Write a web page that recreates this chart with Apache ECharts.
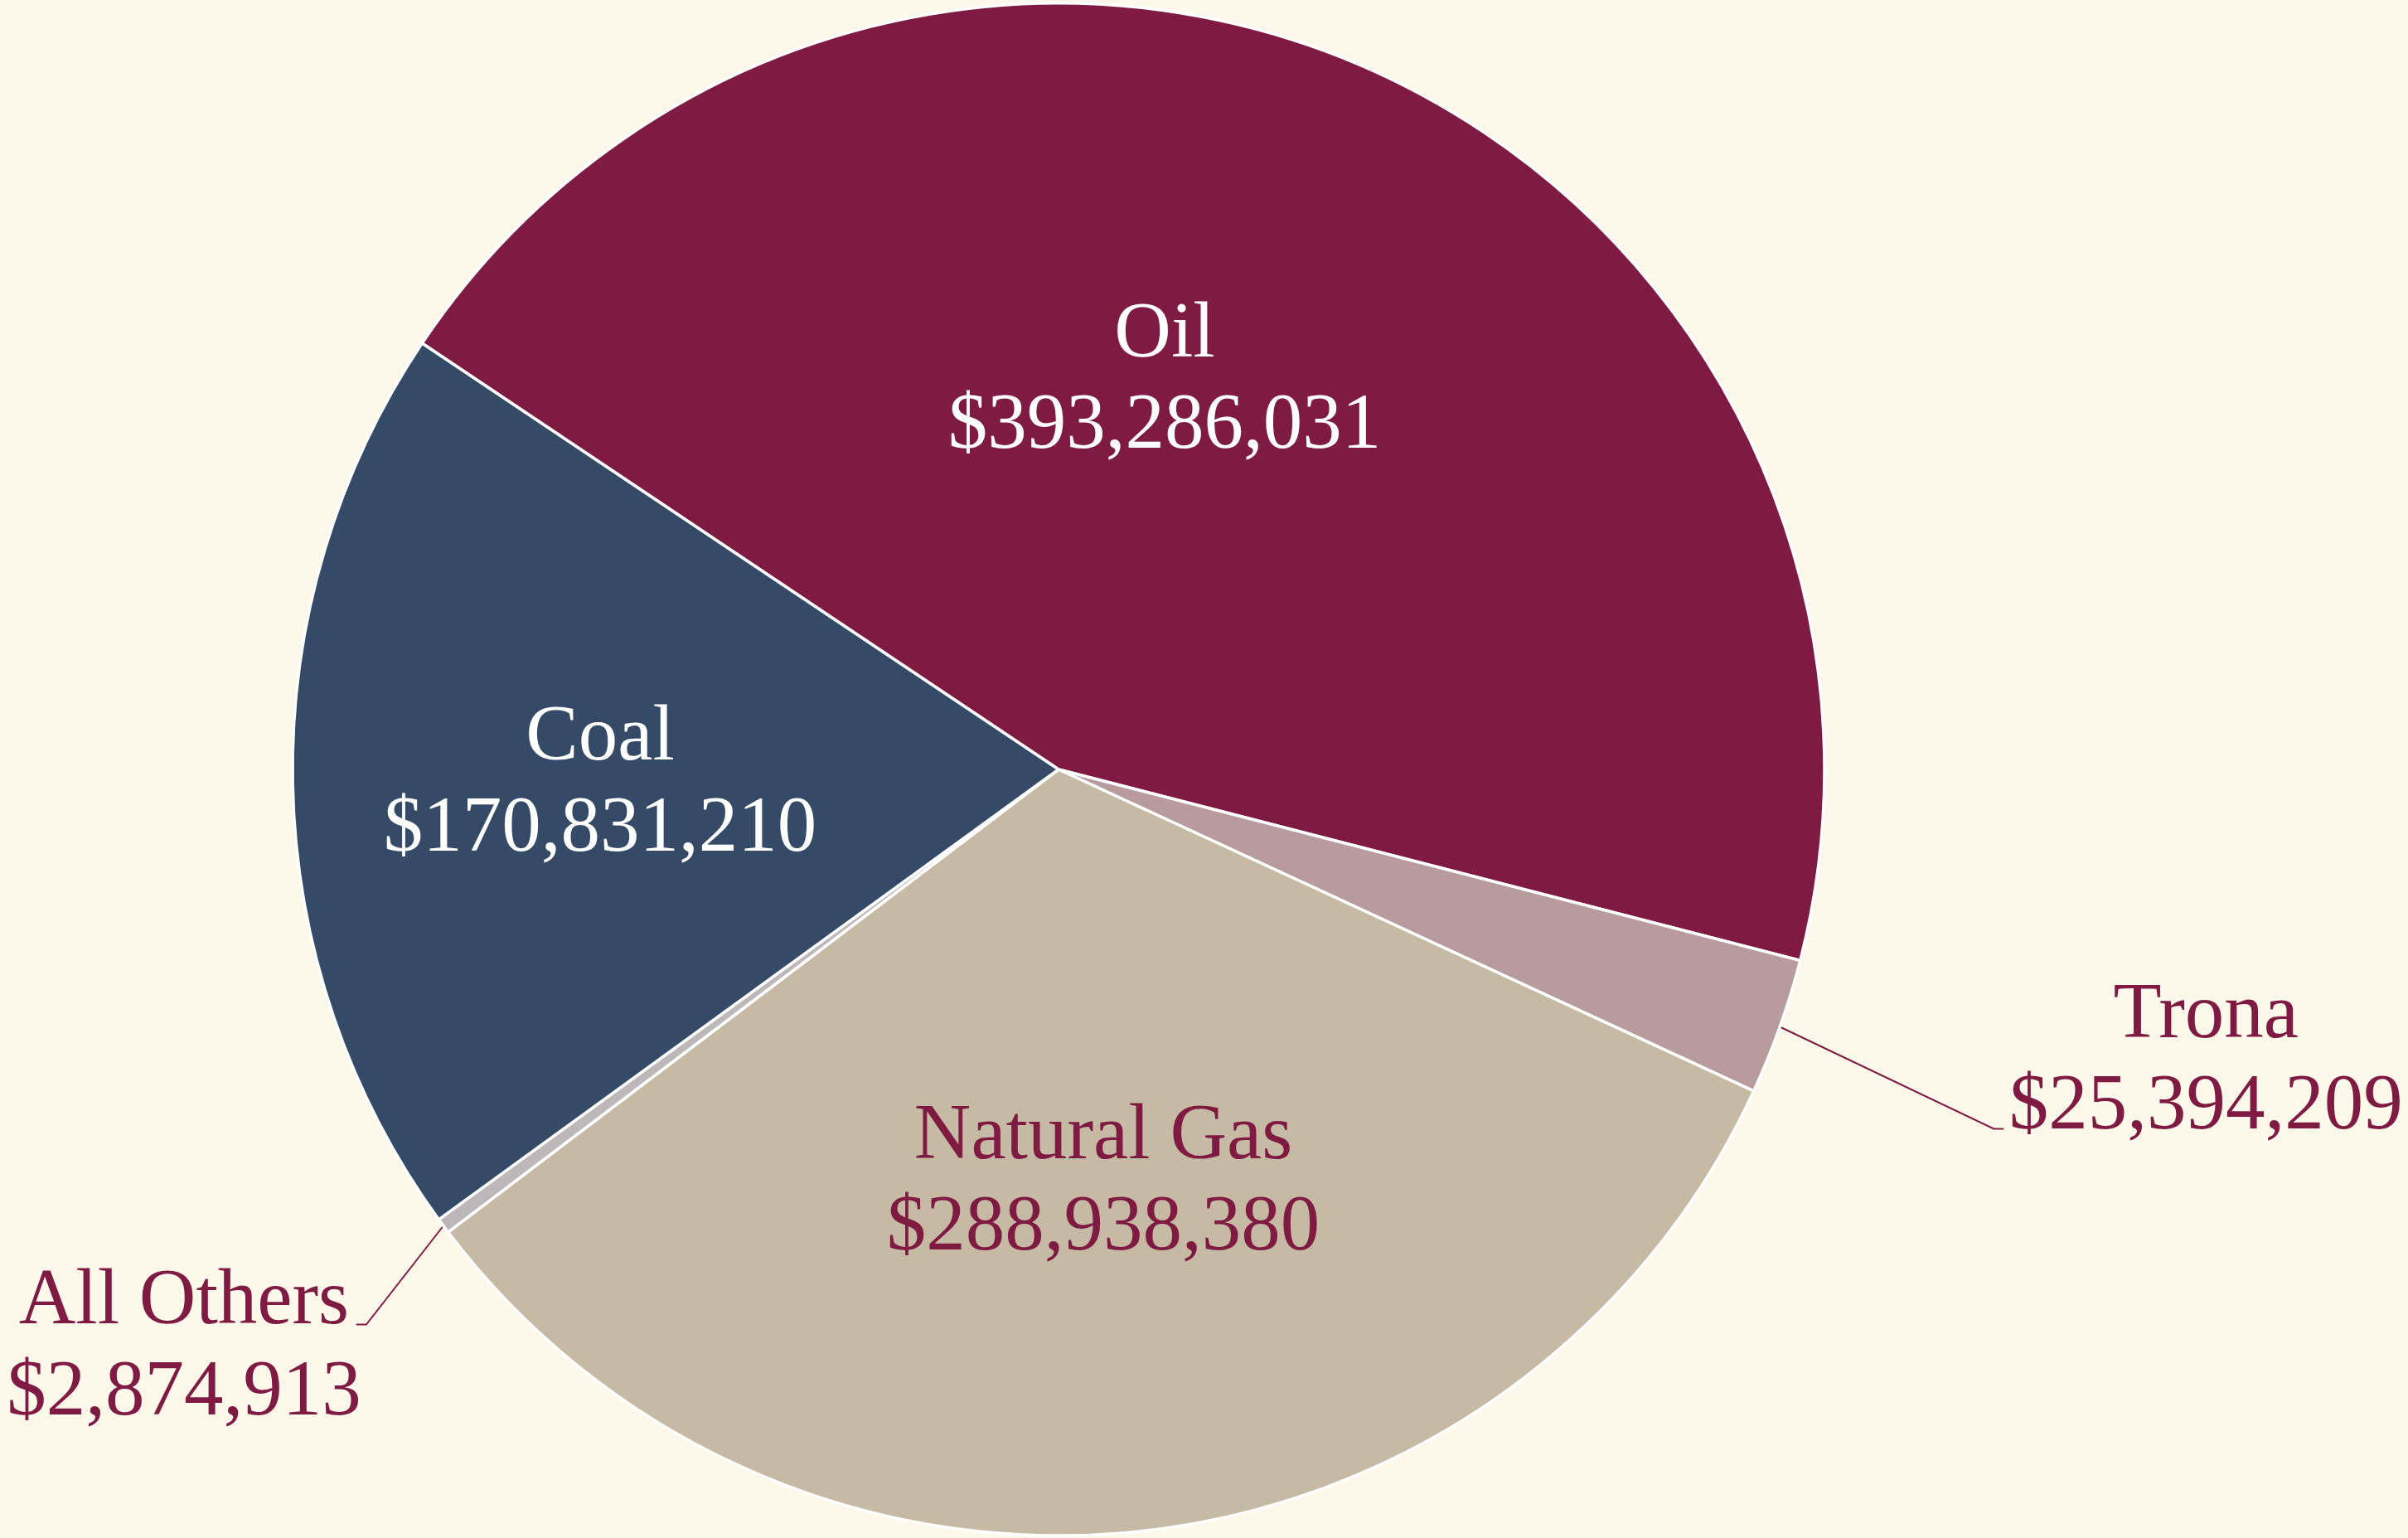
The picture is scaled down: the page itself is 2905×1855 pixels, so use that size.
<!DOCTYPE html>
<html>
<head>
<meta charset="utf-8">
<title>Mineral production value</title>
<script src="https://cdn.jsdelivr.net/npm/echarts@6/dist/echarts.min.js"></script>
<style>
  html, body { margin: 0; padding: 0; background: #FEF8EB; }
  #chart { width: 2905px; height: 1855px; }
</style>
</head>
<body>
<div id="chart"></div>
<script>
// Production value by mineral, listed clockwise from the Oil slice
const categories = ['Oil', 'Trona', 'Natural Gas', 'All Others', 'Coal'];
const values = [393286031, 25394209, 288938380, 2874913, 170831210];

const sliceColors = ['#7F1B43', '#B89C9D', '#C6BAA4', '#BEB7B9', '#344A67'];
const labelColors = ['#FFFFFF', '#7F1B43', '#7F1B43', '#7F1B43', '#FFFFFF'];
const labelInside = [true, false, true, false, true];

// Fine placement of each label relative to where the pie layout puts it
const insideShift = { 0: [-62, -44], 2: [4, 37], 4: [-88, 9] };
// Leader lines: bend point relative to the arc point, short tail, then text centre
const leader = {
  1: { bend: [258, 123], tail: 12, text: [244, -80] },
  3: { bend: [-93, 119], tail: -12, text: [-208, 29] }
};

const fmt = v => '$' + v.toLocaleString('en-US');

const chart = echarts.init(document.getElementById('chart'), null, { renderer: 'canvas' });

chart.setOption({
  backgroundColor: '#FEF8EB',
  animation: false,
  series: [{
    type: 'pie',
    center: [1277, 928],
    radius: 924,
    startAngle: 146.2,
    clockwise: true,
    avoidLabelOverlap: false,
    itemStyle: { borderColor: '#FFFFFF', borderWidth: 3.5 },
    label: {
      fontFamily: '"Liberation Serif", "Times New Roman", serif',
      fontSize: 95,
      lineHeight: 110,
      align: 'center',
      formatter: p => p.name + '\n' + fmt(p.value)
    },
    labelLine: {
      lineStyle: { color: '#7F1B43', width: 2 }
    },
    labelLayout: function (params) {
      const i = params.dataIndex;
      if (insideShift[i]) {
        const r = params.labelRect;
        return {
          x: r.x + r.width / 2 + insideShift[i][0],
          y: r.y + r.height / 2 + insideShift[i][1],
          align: 'center',
          verticalAlign: 'middle'
        };
      }
      const cfg = leader[i];
      if (cfg && params.labelLinePoints) {
        const p0 = params.labelLinePoints[0];
        const p1 = [p0[0] + cfg.bend[0], p0[1] + cfg.bend[1]];
        const p2 = [p1[0] + cfg.tail, p1[1]];
        return {
          x: p2[0] + cfg.text[0],
          y: p2[1] + cfg.text[1],
          align: 'center',
          verticalAlign: 'middle',
          labelLinePoints: [p0, p1, p2]
        };
      }
      return {};
    },
    data: categories.map((name, i) => ({
      name: name,
      value: values[i],
      itemStyle: { color: sliceColors[i] },
      label: {
        show: true,
        position: labelInside[i] ? 'inside' : 'outside',
        color: labelColors[i]
      },
      labelLine: { show: !labelInside[i] }
    }))
  }]
});
</script>
</body>
</html>
